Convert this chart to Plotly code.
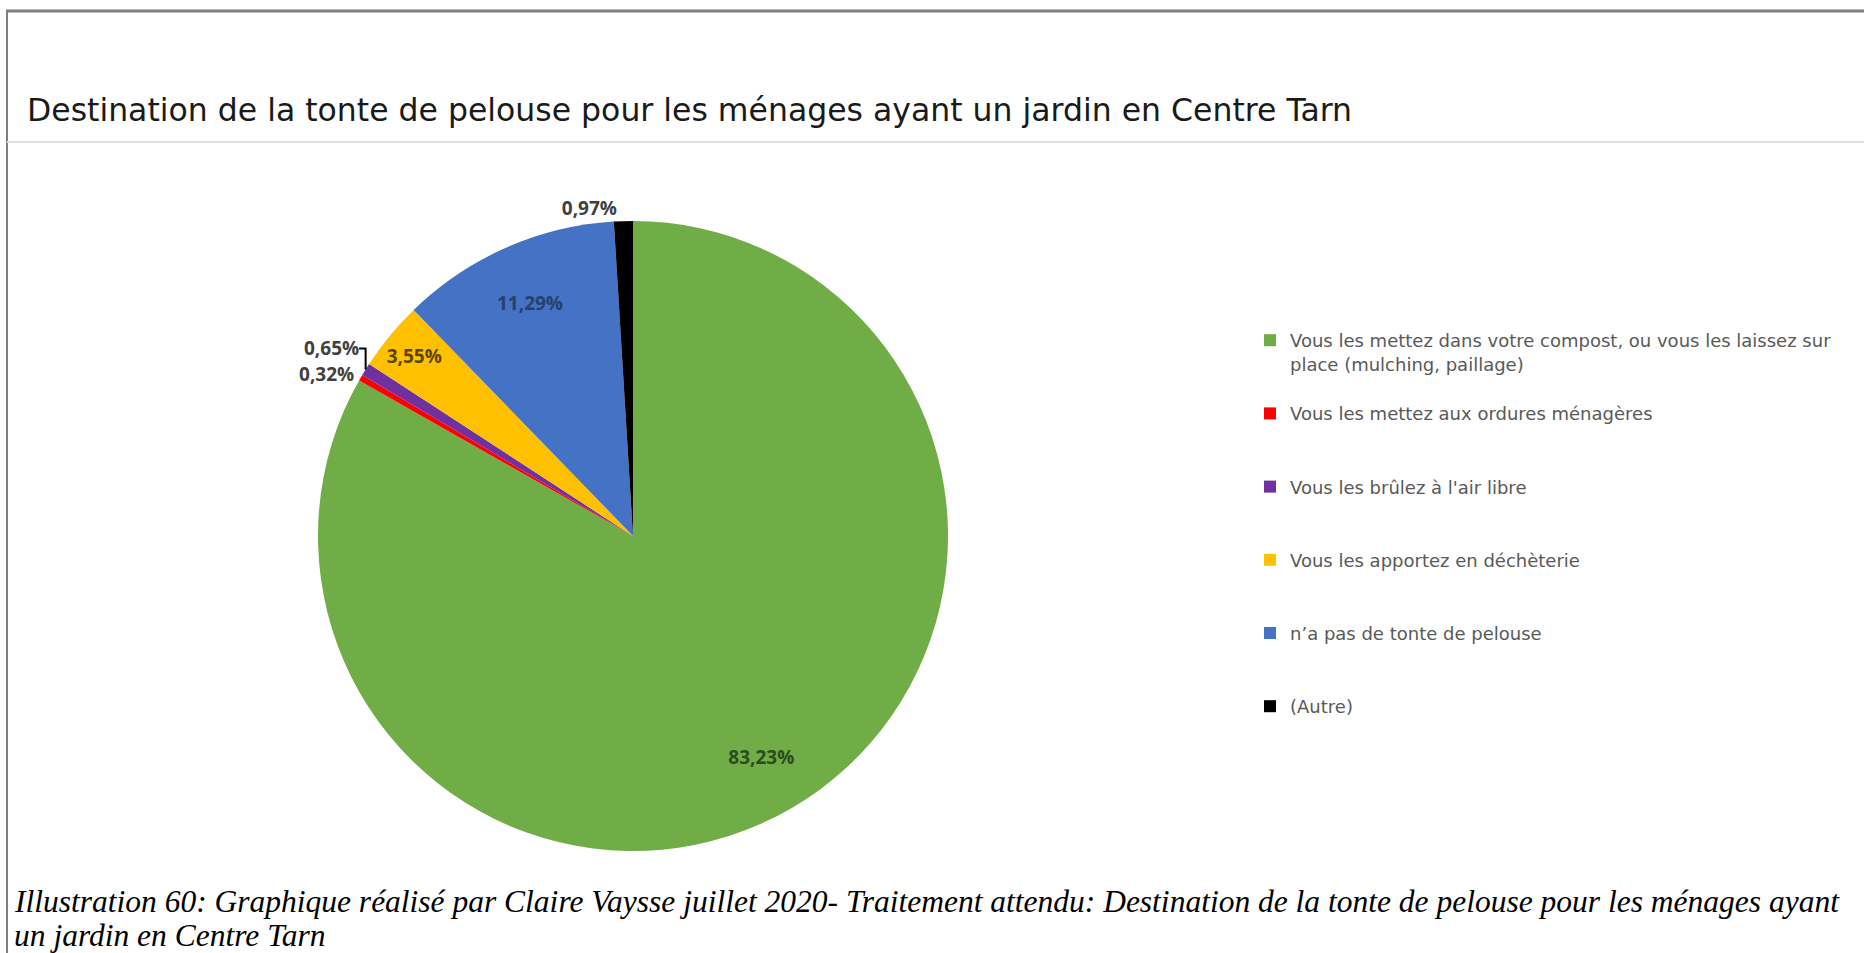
import plotly.graph_objects as go

W, H = 1864, 953

# slices, clockwise from 12 o'clock
labels = [
    "Vous les mettez dans votre compost, ou vous les laissez sur<br>place (mulching, paillage)",
    "Vous les mettez aux ordures ménagères",
    "Vous les brûlez à l'air libre",
    "Vous les apportez en déchèterie",
    "n’a pas de tonte de pelouse",
    "(Autre)",
]
values = [83.23, 0.32, 0.65, 3.55, 11.29, 0.97]

colors = ["#70AD47", "#FF0000", "#7030A0", "#FFC000", "#4472C4", "#000000"]
label_pos = ["inside", "outside", "outside", "inside", "inside", "outside"]
label_colors = ["#2E4A1F", "#404040", "#404040", "#5A4600", "#27406E", "#404040"]

title = "Destination de la tonte de pelouse pour les ménages ayant un jardin en Centre Tarn"
caption_lines = [
    "Illustration 60: Graphique réalisé par Claire Vaysse juillet 2020- Traitement attendu: "
    "Destination de la tonte de pelouse pour les ménages ayant",
    "un jardin en Centre Tarn",
]


def px(x):
    return x / W


def py(y):
    return 1 - y / H


# pad legend entries so each one takes three text lines (wide spacing like the original)
legend_labels = []
for lab in labels:
    n = lab.count("<br>") + 1
    legend_labels.append(lab + "<br> " * (3 - n))

pct_text = [f"{v:.2f}%".replace(".", ",") for v in values]
pie_domain = dict(x=[px(318), px(948)], y=[py(851), py(221)])

fig = go.Figure()
# the coloured pie
fig.add_trace(go.Pie(
    labels=legend_labels,
    values=values,
    textinfo="none",
    marker=dict(colors=colors, line=dict(width=0)),
    sort=False,
    direction="clockwise",
    rotation=0,
    domain=pie_domain,
    hoverinfo="skip",
))
# transparent ring on top, only used to place the percentage labels further out
fig.add_trace(go.Pie(
    labels=legend_labels,
    values=values,
    hole=0.62,
    text=pct_text,
    texttemplate="%{text}",
    textposition=label_pos,
    insidetextorientation="horizontal",
    textfont=dict(family="Open Sans", size=19, weight="bold", color=label_colors),
    marker=dict(colors=["rgba(0,0,0,0)"] * len(values), line=dict(width=0)),
    sort=False,
    direction="clockwise",
    rotation=0,
    domain=pie_domain,
    showlegend=False,
    hoverinfo="skip",
))

caption_font = dict(family="Liberation Serif", size=31.5, color="#000000", style="italic")

fig.update_layout(
    width=W, height=H,
    margin=dict(l=0, r=0, t=0, b=0),
    paper_bgcolor="white",
    showlegend=True,
    uniformtext=dict(minsize=19, mode="show"),
    legend=dict(
        x=px(1250), y=py(322), xanchor="left", yanchor="top",
        valign="top",
        font=dict(family="DejaVu Sans", size=18, color="#595959"),
        bgcolor="rgba(0,0,0,0)",
    ),
    annotations=[
        dict(text=title, x=px(25), y=py(110), xref="paper", yref="paper",
             xanchor="left", yanchor="middle", showarrow=False,
             font=dict(family="DejaVu Sans", size=31.5, color="#1a1a1a")),
        dict(text=caption_lines[0], x=px(12), y=py(901), xref="paper", yref="paper",
             xanchor="left", yanchor="middle", showarrow=False, height=36,
             font=caption_font),
        dict(text=caption_lines[1], x=px(12), y=py(935), xref="paper", yref="paper",
             xanchor="left", yanchor="middle", showarrow=False, height=36,
             font=caption_font),
    ],
    shapes=[
        # outer frame (top and left edges)
        dict(type="line", xref="paper", yref="paper", x0=px(6), x1=1, y0=py(11), y1=py(11),
             line=dict(color="#7F7F7F", width=3)),
        dict(type="line", xref="paper", yref="paper", x0=px(7), x1=px(7), y0=py(11), y1=0,
             line=dict(color="#7F7F7F", width=2)),
        # separator under the chart title
        dict(type="line", xref="paper", yref="paper", x0=px(7), x1=1, y0=py(142), y1=py(142),
             line=dict(color="#E0E0E0", width=2)),
    ],
)

fig.write_html("out.html", config={"displayModeBar": False},
               post_script="document.body.style.margin='0';document.body.style.overflow='hidden';")
